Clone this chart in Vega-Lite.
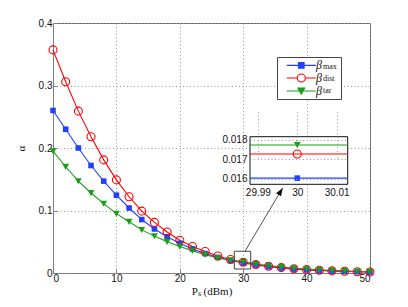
{
  "$schema": "https://vega.github.io/schema/vega-lite/v6.json",
  "width": 317,
  "height": 250,
  "autosize": {"type": "none"},
  "padding": {"left": 53, "top": 23, "right": 38, "bottom": 34},
  "background": "white",
  "config": {
    "view": {"stroke": "#666", "strokeWidth": 1},
    "font": "Liberation Sans",
    "axis": {
      "labelFont": "Liberation Sans",
      "labelFontSize": 10,
      "labelColor": "#111",
      "domainColor": "#808080",
      "tickColor": "#808080",
      "gridColor": "#999",
      "gridDash": [1, 2.5],
      "gridOpacity": 1,
      "titleFont": "Liberation Serif",
      "titleFontWeight": "normal",
      "titleFontSize": 11,
      "titleColor": "#111"
    }
  },
  "datasets": {
    "curves": [
      {"x": 0, "y": 0.260, "series": "max"}, {"x": 2, "y": 0.230, "series": "max"}, {"x": 4, "y": 0.200, "series": "max"},
      {"x": 6, "y": 0.172, "series": "max"}, {"x": 8, "y": 0.147, "series": "max"}, {"x": 10, "y": 0.1245, "series": "max"},
      {"x": 12, "y": 0.104, "series": "max"}, {"x": 14, "y": 0.0855, "series": "max"}, {"x": 16, "y": 0.0705, "series": "max"},
      {"x": 18, "y": 0.058, "series": "max"}, {"x": 20, "y": 0.0475, "series": "max"}, {"x": 22, "y": 0.0385, "series": "max"},
      {"x": 24, "y": 0.031, "series": "max"}, {"x": 26, "y": 0.025, "series": "max"}, {"x": 28, "y": 0.0200, "series": "max"},
      {"x": 30, "y": 0.01602, "series": "max"}, {"x": 32, "y": 0.0127, "series": "max"}, {"x": 34, "y": 0.0100, "series": "max"},
      {"x": 36, "y": 0.0079, "series": "max"}, {"x": 38, "y": 0.0062, "series": "max"}, {"x": 40, "y": 0.0049, "series": "max"},
      {"x": 42, "y": 0.0039, "series": "max"}, {"x": 44, "y": 0.0031, "series": "max"}, {"x": 46, "y": 0.0025, "series": "max"},
      {"x": 48, "y": 0.0020, "series": "max"}, {"x": 50, "y": 0.0016, "series": "max"},
      {"x": 0, "y": 0.357, "series": "dist"}, {"x": 2, "y": 0.306, "series": "dist"}, {"x": 4, "y": 0.259, "series": "dist"},
      {"x": 6, "y": 0.218, "series": "dist"}, {"x": 8, "y": 0.181, "series": "dist"}, {"x": 10, "y": 0.149, "series": "dist"},
      {"x": 12, "y": 0.122, "series": "dist"}, {"x": 14, "y": 0.099, "series": "dist"}, {"x": 16, "y": 0.081, "series": "dist"},
      {"x": 18, "y": 0.0655, "series": "dist"}, {"x": 20, "y": 0.0525, "series": "dist"}, {"x": 22, "y": 0.0425, "series": "dist"},
      {"x": 24, "y": 0.0345, "series": "dist"}, {"x": 26, "y": 0.0272, "series": "dist"}, {"x": 28, "y": 0.0217, "series": "dist"},
      {"x": 30, "y": 0.01727, "series": "dist"}, {"x": 32, "y": 0.0137, "series": "dist"}, {"x": 34, "y": 0.0108, "series": "dist"},
      {"x": 36, "y": 0.0086, "series": "dist"}, {"x": 38, "y": 0.0068, "series": "dist"}, {"x": 40, "y": 0.0054, "series": "dist"},
      {"x": 42, "y": 0.0043, "series": "dist"}, {"x": 44, "y": 0.0034, "series": "dist"}, {"x": 46, "y": 0.0027, "series": "dist"},
      {"x": 48, "y": 0.0021, "series": "dist"}, {"x": 50, "y": 0.0017, "series": "dist"},
      {"x": 0, "y": 0.195, "series": "tar"}, {"x": 2, "y": 0.170, "series": "tar"}, {"x": 4, "y": 0.147, "series": "tar"},
      {"x": 6, "y": 0.128, "series": "tar"}, {"x": 8, "y": 0.111, "series": "tar"}, {"x": 10, "y": 0.095, "series": "tar"},
      {"x": 12, "y": 0.082, "series": "tar"}, {"x": 14, "y": 0.069, "series": "tar"}, {"x": 16, "y": 0.059, "series": "tar"},
      {"x": 18, "y": 0.050, "series": "tar"}, {"x": 20, "y": 0.0425, "series": "tar"}, {"x": 22, "y": 0.0355, "series": "tar"},
      {"x": 24, "y": 0.0292, "series": "tar"}, {"x": 26, "y": 0.0240, "series": "tar"}, {"x": 28, "y": 0.0205, "series": "tar"},
      {"x": 30, "y": 0.01774, "series": "tar"}, {"x": 32, "y": 0.0145, "series": "tar"}, {"x": 34, "y": 0.0118, "series": "tar"},
      {"x": 36, "y": 0.0095, "series": "tar"}, {"x": 38, "y": 0.0077, "series": "tar"}, {"x": 40, "y": 0.0062, "series": "tar"},
      {"x": 42, "y": 0.0050, "series": "tar"}, {"x": 44, "y": 0.0040, "series": "tar"}, {"x": 46, "y": 0.0032, "series": "tar"},
      {"x": 48, "y": 0.0026, "series": "tar"}, {"x": 50, "y": 0.0021, "series": "tar"}
    ],
    "zoombox": [{"x": 28.6, "x2": 31.18, "y": 0.0064, "y2": 0.0348}],
    "arrow": [{"x": 30.28, "y": 0.0348, "x2": 36.23, "y2": 0.1362}]
  },
  "layer": [
    {
      "layer": [
        {
          "data": {"name": "curves"},
          "mark": {"type": "line", "strokeWidth": 1.1},
          "encoding": {
            "x": {"field": "x", "type": "quantitative", "title": "Pₛ (dBm)",
              "scale": {"domain": [0, 50], "nice": false, "zero": false},
              "axis": {"values": [0, 10, 20, 30, 40, 50], "tickSize": -4, "labelPadding": 4, "titlePadding": 2, "zindex": 0, "grid": true}},
            "y": {"field": "y", "type": "quantitative", "title": "α",
              "scale": {"domain": [0, 0.4], "nice": false, "zero": false},
              "axis": {"values": [0, 0.1, 0.2, 0.3, 0.4], "format": "~g", "tickSize": -4, "labelPadding": 5, "titlePadding": 12, "zindex": 0, "grid": true}},
            "color": {"field": "series", "type": "nominal",
              "scale": {"domain": ["max", "dist", "tar"], "range": ["#2040ff", "#ff0000", "#1a9e1a"]},
              "legend": null}
          }
        },
        {
          "data": {"name": "curves"},
          "transform": [{"filter": "datum.series === 'max'"}],
          "mark": {"type": "point", "shape": "M-0.7,-0.7H0.7V0.7H-0.7Z", "size": 64, "filled": true, "color": "#2040ff", "opacity": 1},
          "encoding": {
            "x": {"field": "x", "type": "quantitative", "title": "Pₛ (dBm)"},
            "y": {"field": "y", "type": "quantitative", "title": "α"}
          }
        },
        {
          "data": {"name": "curves"},
          "transform": [{"filter": "datum.series === 'dist'"}],
          "mark": {"type": "point", "shape": "circle", "size": 64, "filled": false, "color": "#ff0000", "strokeWidth": 1.1, "opacity": 1},
          "encoding": {
            "x": {"field": "x", "type": "quantitative", "title": "Pₛ (dBm)"},
            "y": {"field": "y", "type": "quantitative", "title": "α"}
          }
        },
        {
          "data": {"name": "curves"},
          "transform": [{"filter": "datum.series === 'tar'"}],
          "mark": {"type": "point", "shape": "M-0.85,-0.75H0.85L0,0.8Z", "size": 64, "filled": true, "color": "#1a9e1a", "opacity": 1},
          "encoding": {
            "x": {"field": "x", "type": "quantitative", "title": "Pₛ (dBm)"},
            "y": {"field": "y", "type": "quantitative", "title": "α"}
          }
        },
        {
          "data": {"name": "curves"},
          "transform": [{"filter": "datum.x === 0"}],
          "mark": {"type": "point", "size": 0, "filled": false, "strokeWidth": 1.1},
          "encoding": {
            "x": {"field": "x", "type": "quantitative", "title": "Pₛ (dBm)"},
            "y": {"field": "y", "type": "quantitative", "title": "α"},
            "stroke": {"field": "series", "type": "nominal",
              "scale": {"domain": ["max", "dist", "tar"], "range": ["#2040ff", "#ff0000", "#1a9e1a"]},
              "legend": {
                "title": null, "orient": "none", "legendX": 224, "legendY": 36.4, "padding": 0,
                "symbolSize": 16, "symbolOffset": 18.3, "labelOffset": 8.7, "rowPadding": -0.4,
                "labelExpr": "'β'", "labelFont": "Liberation Serif", "labelFontStyle": "italic", "labelFontSize": 12, "labelColor": "#111",
                "symbolStrokeWidth": 1.1, "symbolOpacity": 1, "zindex": 1
              }},
            "fill": {"field": "series", "type": "nominal",
              "scale": {"domain": ["max", "dist", "tar"], "range": ["#2040ff", "transparent", "#1a9e1a"]},
              "legend": {
                "title": null, "orient": "none", "legendX": 224, "legendY": 36.4, "padding": 0,
                "symbolSize": 16, "symbolOffset": 18.3, "labelOffset": 8.7, "rowPadding": -0.4,
                "labelExpr": "'β'", "labelFont": "Liberation Serif", "labelFontStyle": "italic", "labelFontSize": 12, "labelColor": "#111",
                "symbolStrokeWidth": 1.1, "symbolOpacity": 1, "zindex": 1
              }},
            "shape": {"field": "series", "type": "nominal",
              "scale": {"domain": ["max", "dist", "tar"], "range": [
                "M-7.25,0H7.25M-1.4,-1.4H1.4V1.4H-1.4Z",
                "M-7.25,0H-2M2,0H7.25M2,0A2,2,0,1,1,-2,0A2,2,0,1,1,2,0Z",
                "M-7.25,0H7.25M-1.7,-1.5H1.7L0,1.6Z"]},
              "legend": {
                "title": null, "orient": "none", "legendX": 224, "legendY": 36.4, "padding": 0,
                "symbolSize": 16, "symbolOffset": 18.3, "labelOffset": 8.7, "rowPadding": -0.4,
                "labelExpr": "'β'", "labelFont": "Liberation Serif", "labelFontStyle": "italic", "labelFontSize": 12, "labelColor": "#111",
                "symbolStrokeWidth": 1.1, "symbolOpacity": 1, "zindex": 1
              }}
          }
        },
        {
          "data": {"name": "zoombox"},
          "mark": {"type": "rect", "fill": "transparent", "stroke": "#444", "strokeWidth": 1},
          "encoding": {
            "x": {"field": "x", "type": "quantitative", "title": "Pₛ (dBm)"},
            "x2": {"field": "x2"},
            "y": {"field": "y", "type": "quantitative", "title": "α"},
            "y2": {"field": "y2"}
          }
        },
        {
          "data": {"name": "arrow"},
          "mark": {"type": "rule", "stroke": "#222", "strokeWidth": 0.8},
          "encoding": {
            "x": {"field": "x", "type": "quantitative", "title": "Pₛ (dBm)"},
            "x2": {"field": "x2"},
            "y": {"field": "y", "type": "quantitative", "title": "α"},
            "y2": {"field": "y2"}
          }
        },
        {
          "data": {"name": "arrow"},
          "mark": {"type": "point", "shape": "M0,0L-0.75,2L0.75,2Z", "size": 64, "filled": true, "color": "#111", "angle": 31, "opacity": 1},
          "encoding": {
            "x": {"field": "x2", "type": "quantitative", "title": "Pₛ (dBm)"},
            "y": {"field": "y2", "type": "quantitative", "title": "α"}
          }
        }
      ]
    },
    {
      "layer": [
        {
          "data": {"values": [{}]},
          "mark": {"type": "rect", "fill": "white", "stroke": "#111", "strokeWidth": 1},
          "encoding": {
            "x": {"datum": 29.988, "type": "quantitative",
              "scale": {"domain": [29.988, 30.0128], "range": [197, 294.7], "nice": false, "zero": false},
              "axis": {"title": null, "orient": "bottom", "offset": -88.7, "values": [29.99, 30, 30.01], "format": "~f", "domain": false, "ticks": false, "labelPadding": 3, "grid": true, "zindex": 1}},
            "x2": {"datum": 30.0128},
            "y": {"datum": 0.0157, "type": "quantitative",
              "scale": {"domain": [0.0157, 0.01817], "range": [161.3, 113.7], "nice": false, "zero": false},
              "axis": {"title": null, "orient": "left", "offset": -197, "values": [0.016, 0.017, 0.018], "format": ".3f", "domain": false, "ticks": false, "labelPadding": 3, "grid": true, "zindex": 1}},
            "y2": {"datum": 0.01817}
          }
        },
        {
          "data": {"name": "curves"},
          "transform": [{"filter": "datum.x === 30"}],
          "mark": {"type": "rule", "strokeWidth": 1.1},
          "encoding": {
            "x": {"datum": 29.988, "type": "quantitative"},
            "x2": {"datum": 30.0128},
            "y": {"field": "y", "type": "quantitative"},
            "color": {"field": "series", "type": "nominal",
              "scale": {"domain": ["max", "dist", "tar"], "range": ["#2040ff", "#ff0000", "#1a9e1a"]},
              "legend": {
                "title": null, "orient": "none", "legendX": 224, "legendY": 34, "padding": 4,
                "symbolSize": 144, "symbolOpacity": 0, "symbolStrokeWidth": 0, "labelOffset": 30, "rowPadding": 1.8,
                "labelFont": "Liberation Serif", "labelFontSize": 8, "labelColor": "#111",
                "strokeColor": "#444", "fillColor": "white", "zindex": 0
              }}
          }
        },
        {
          "data": {"name": "curves"},
          "transform": [{"filter": "datum.x === 30 && datum.series === 'max'"}],
          "mark": {"type": "point", "shape": "M-0.7,-0.7H0.7V0.7H-0.7Z", "size": 64, "filled": true, "color": "#2040ff", "opacity": 1},
          "encoding": {
            "x": {"field": "x", "type": "quantitative"},
            "y": {"field": "y", "type": "quantitative"}
          }
        },
        {
          "data": {"name": "curves"},
          "transform": [{"filter": "datum.x === 30 && datum.series === 'dist'"}],
          "mark": {"type": "point", "shape": "circle", "size": 64, "filled": false, "color": "#ff0000", "strokeWidth": 1.1, "opacity": 1},
          "encoding": {
            "x": {"field": "x", "type": "quantitative"},
            "y": {"field": "y", "type": "quantitative"}
          }
        },
        {
          "data": {"name": "curves"},
          "transform": [{"filter": "datum.x === 30 && datum.series === 'tar'"}],
          "mark": {"type": "point", "shape": "M-0.85,-0.75H0.85L0,0.8Z", "size": 64, "filled": true, "color": "#1a9e1a", "opacity": 1},
          "encoding": {
            "x": {"field": "x", "type": "quantitative"},
            "y": {"field": "y", "type": "quantitative"}
          }
        }
      ]
    }
  ],
  "resolve": {
    "scale": {"x": "independent", "y": "independent", "color": "independent"},
    "axis": {"x": "independent", "y": "independent"},
    "legend": {"color": "independent"}
  }
}
